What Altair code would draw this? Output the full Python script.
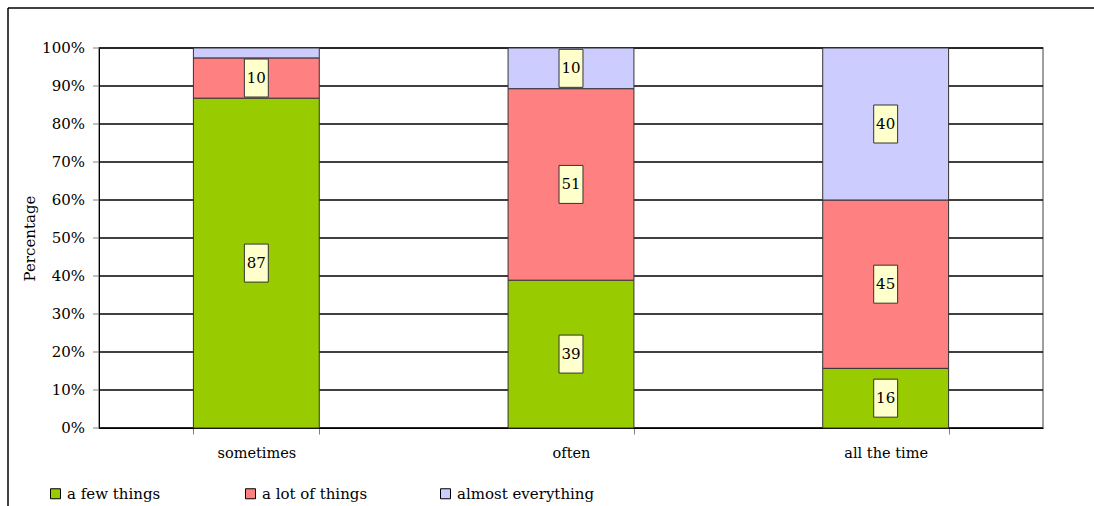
import altair as alt
import pandas as pd

categories = ["sometimes", "often", "all the time"]
series = ["a few things", "a lot of things", "almost everything"]
colors = ["#99CC00", "#FF8080", "#CCCCFF"]

# segment heights (percent)
few_things = [86.8, 38.9, 15.7]
lot_of_things = [10.6, 50.4, 44.3]
almost_everything = [2.6, 10.7, 40.0]

# printed data labels
few_labels = ["87", "39", "16"]
lot_labels = ["10", "51", "45"]
almost_labels = ["", "10", "40"]

# y axis ticks
tick_values = [0, 0.1, 0.2, 0.3, 0.4, 0.5, 0.6, 0.7, 0.8, 0.9, 1]
tick_labels = ["0%", "10%", "20%", "30%", "40%", "50%", "60%", "70%", "80%", "90%", "100%"]

rows = []
for s_i, (name, vals, labs) in enumerate(
    zip(series, [few_things, lot_of_things, almost_everything],
        [few_labels, lot_labels, almost_labels])):
    for c, v, l in zip(categories, vals, labs):
        rows.append({"category": c, "series": name, "order": s_i, "value": v, "label": l})
df = pd.DataFrame(rows)
ticks_df = pd.DataFrame({"t": tick_values, "lab": tick_labels})

FONT = "DejaVu Serif"

y_scale = alt.Scale(domain=[0, 1], nice=False, zero=True)
y_axis = alt.Axis(title="Percentage", grid=False, labels=False, ticks=False,
                  domain=True, domainColor="#000000")

base = alt.Chart(df).transform_stack(
    stack="value", groupby=["category"], sort=[alt.SortField("order")],
    as_=["y0", "y1"], offset="normalize"
).transform_calculate(mid="(datum.y0 + datum.y1) / 2")

x_enc = alt.X(
    "category:N", sort=categories,
    scale=alt.Scale(paddingInner=0.6, paddingOuter=0.3),
    axis=alt.Axis(title=None, labelAngle=0, tickBand="extent", grid=False,
                  tickSize=6, tickColor="#808080", domainColor="#000000",
                  labelPadding=12, labelFont=FONT, labelFontSize=14.5, labelColor="#000"),
)

# gridlines, ticks and tick labels of the y axis, from the tick arrays
tick_base = alt.Chart(ticks_df)
grid = tick_base.mark_rule(color="#000000", strokeWidth=1.6).encode(
    y=alt.Y("t:Q", scale=y_scale, axis=y_axis),
    x=alt.value(0), x2=alt.value(944))
yticks = tick_base.mark_rule(color="#808080", strokeWidth=1).encode(
    y=alt.Y("t:Q", scale=y_scale, axis=y_axis),
    x=alt.value(-6), x2=alt.value(0))
ylabels = tick_base.mark_text(
    font=FONT, fontSize=15, color="#000", align="right", baseline="middle"
).encode(y=alt.Y("t:Q", scale=y_scale, axis=y_axis), x=alt.value(-14), text="lab:N")

bars = base.mark_bar(stroke="#333333", strokeWidth=1).encode(
    x=x_enc,
    y=alt.Y("y0:Q", scale=y_scale, axis=y_axis),
    y2="y1:Q",
    color=alt.Color(
        "series:N", scale=alt.Scale(domain=series, range=colors),
        legend=alt.Legend(
            title=None, orient="none", direction="horizontal",
            legendX=-51, legendY=438, symbolType="square", symbolSize=100,
            symbolStrokeColor="#000", symbolStrokeWidth=1, symbolOpacity=1,
            labelFont=FONT, labelFontSize=15, labelColor="#000", labelOffset=4,
            columnPadding=38, gridAlign="all", padding=0,
        ),
    ),
)

box_shape = "M-0.63,-1L0.63,-1L0.63,1L-0.63,1Z"
boxes = base.transform_filter("datum.label != ''").mark_point(
    shape=box_shape, size=1444, filled=True, fill="#FFFFCC",
    stroke="#333333", strokeWidth=1, opacity=1,
).encode(x=x_enc, y=alt.Y("mid:Q", scale=y_scale, axis=y_axis))

texts = base.transform_filter("datum.label != ''").mark_text(
    font=FONT, fontSize=15, color="#000", baseline="middle", align="center",
).encode(x=x_enc, y=alt.Y("mid:Q", scale=y_scale, axis=y_axis), text="label:N")

frame_src = alt.Data(values=[{"k": 1}])
frame_top = alt.Chart(frame_src).mark_rule(color="#000", strokeWidth=1.5).encode(
    x=alt.value(-91), x2=alt.value(995), y=alt.value(-40))
frame_left = alt.Chart(frame_src).mark_rule(color="#000", strokeWidth=1.5).encode(
    x=alt.value(-91), y=alt.value(-40), y2=alt.value(458))

chart = alt.layer(grid, yticks, ylabels, bars, boxes, texts, frame_top, frame_left).properties(
    width=944, height=380,
    padding={"left": 99, "top": 48, "right": 51, "bottom": 78},
    autosize=alt.AutoSizeParams(type="none"),
    background="white",
).configure_view(
    stroke="#808080", strokeWidth=1.5
).configure_axisY(
    grid=False, labels=False, ticks=False, domainColor="#000000",
    titleFont=FONT, titleFontSize=15, titleFontWeight="normal", titleColor="#000",
    titlePadding=62,
)

chart.save("out.html", embed_options={"renderer": "svg", "actions": False})
